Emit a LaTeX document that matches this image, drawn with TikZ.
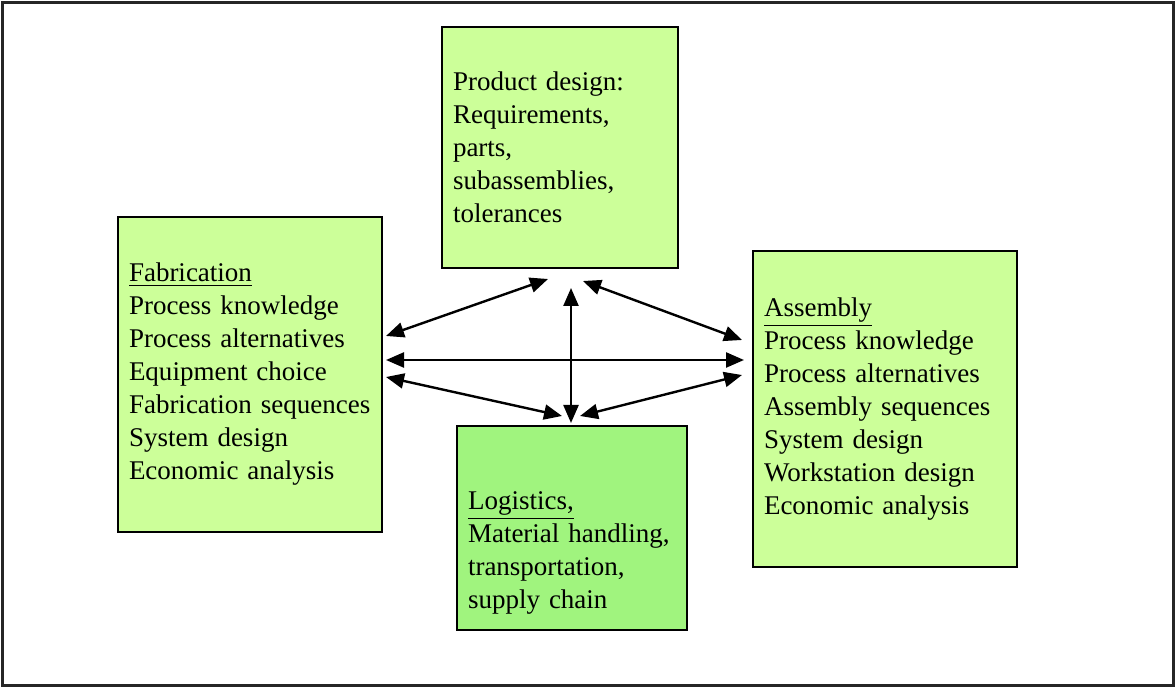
\documentclass[tikz,border=0pt]{standalone}
\usepackage{fontspec}
\setmainfont{Liberation Serif}
\usetikzlibrary{arrows.meta,calc}
\definecolor{palegreen}{HTML}{CCFF99}
\definecolor{loggreen}{HTML}{A0F47E}

\begin{document}
\begin{tikzpicture}[x=0.5pt,y=-0.5pt,
  box/.style={draw,line width=1pt,align=left,inner xsep=5.5pt,font=\fontsize{13.5}{16.5}\selectfont},
  link/.style={line width=1.2pt,{Triangle[length=9pt,width=7.5pt]}-{Triangle[length=9pt,width=7.5pt]}}]
\useasboundingbox (0,0) rectangle (1176,688);
\draw[line width=1.5pt,black!85] (2.5,2.5) rectangle (1173.5,685.5);

\node[box,fill=palegreen,minimum height=120.5pt,text width=107pt] (prod) at (560,147.5) {Product design:\\Requirements,\\parts,\\subassemblies,\\tolerances};
\node[box,fill=palegreen,minimum height=157.5pt,text width=121pt] (fab) at (250,374.5) {\underline{Fabrication}\\Process knowledge\\Process alternatives\\Equipment choice\\Fabrication sequences\\System design\\Economic analysis};
\node[box,fill=palegreen,minimum height=158pt,text width=121pt] (asm) at (885,409) {\underline{Assembly}\\Process knowledge\\Process alternatives\\Assembly sequences\\System design\\Workstation design\\Economic analysis};
\node[box,fill=loggreen,minimum height=102pt,text width=104pt] (log) at (572,528) {\rule{0pt}{34pt}\underline{Logistics,}\\Material handling,\\transportation,\\supply chain};

% links between the boxes
\draw[link] ($(fab.east)+(3,-38.5)$) -- ($(prod.south)+(-12,10)$);
\draw[link] ($(fab.east)+(3,-14.5)$) -- ($(asm.west)+(-8,-49)$);
\draw[link] ($(fab.east)+(3,2.5)$) -- ($(log.north)+(-10,-9)$);
\draw[link] ($(prod.south)+(11,19)$) -- ($(log.north)+(-1,-2)$);
\draw[link] ($(prod.south)+(23,12)$) -- ($(asm.west)+(-10,-69)$);
\draw[link] ($(log.north)+(8,-9)$) -- ($(asm.west)+(-10,-34)$);
\end{tikzpicture}
\end{document}
